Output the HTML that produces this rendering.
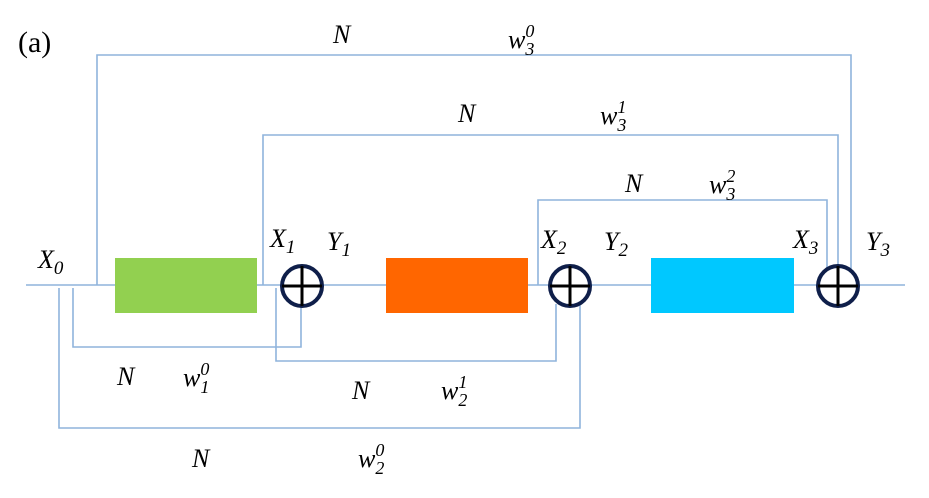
<!DOCTYPE html>
<html><head><style>
body{margin:0;background:#fff}
svg{display:block}
text{font-family:"Liberation Serif",serif;font-style:italic;fill:#000}
</style></head><body>
<svg width="929" height="498" viewBox="0 0 929 498" xmlns="http://www.w3.org/2000/svg">
<g fill="none" stroke="#8fb4dc" stroke-width="1.6">
<line x1="26" y1="285" x2="905" y2="285"/>
<polyline points="97,285 97,55 851,55 851,270"/>
<polyline points="263,285 263,135 838,135 838,265"/>
<polyline points="538,285 538,200 827,200 827,280"/>
<polyline points="73,288 73,347 301,347 301,305"/>
<polyline points="59,288 59,428 580,428 580,302"/>
<polyline points="276,288 276,361 556,361 556,304"/>
</g>
<rect x="115" y="258" width="142" height="55" fill="#92d050"/>
<rect x="386" y="258" width="142" height="55" fill="#ff6600"/>
<rect x="651" y="258" width="143" height="55" fill="#00c8ff"/>
<g fill="#fff" stroke="#0f1f4a" stroke-width="4">
<circle cx="302" cy="286" r="20"/>
<circle cx="570" cy="286" r="20"/>
<circle cx="838" cy="286" r="20"/>
</g>
<g stroke="#000" stroke-width="3">
<line x1="282" y1="286" x2="322" y2="286"/><line x1="302" y1="266" x2="302" y2="306"/>
<line x1="550" y1="286" x2="590" y2="286"/><line x1="570" y1="266" x2="570" y2="306"/>
<line x1="818" y1="286" x2="858" y2="286"/><line x1="838" y1="266" x2="838" y2="306"/>
</g>
<text x="18" y="52" font-size="30" style="font-style:normal">(a)</text>
<g font-size="26">
<text x="38" y="268">X<tspan font-size="19" dy="6">0</tspan></text>
<text x="270" y="247">X<tspan font-size="19" dy="6">1</tspan></text>
<text x="327" y="250">Y<tspan font-size="19" dy="6">1</tspan></text>
<text x="541" y="248">X<tspan font-size="19" dy="6">2</tspan></text>
<text x="604" y="250">Y<tspan font-size="19" dy="6">2</tspan></text>
<text x="793" y="248">X<tspan font-size="19" dy="6">3</tspan></text>
<text x="866" y="250">Y<tspan font-size="19" dy="6">3</tspan></text>
<text x="333" y="43">N</text>
<text x="458" y="122">N</text>
<text x="625" y="192">N</text>
<text x="117" y="385">N</text>
<text x="352" y="399">N</text>
<text x="192" y="467">N</text>
</g>
<g font-size="26">
<text x="508" y="48">w<tspan font-size="18" dx="0" dy="7">3</tspan><tspan font-size="18" dx="-9" dy="-18">0</tspan></text>
<text x="600" y="124">w<tspan font-size="18" dy="7">3</tspan><tspan font-size="18" dx="-9" dy="-18">1</tspan></text>
<text x="709" y="193">w<tspan font-size="18" dy="7">3</tspan><tspan font-size="18" dx="-9" dy="-18">2</tspan></text>
<text x="183" y="386">w<tspan font-size="18" dy="7">1</tspan><tspan font-size="18" dx="-9" dy="-18">0</tspan></text>
<text x="441" y="399">w<tspan font-size="18" dy="7">2</tspan><tspan font-size="18" dx="-9" dy="-18">1</tspan></text>
<text x="358" y="467">w<tspan font-size="18" dy="7">2</tspan><tspan font-size="18" dx="-9" dy="-18">0</tspan></text>
</g>
</svg>
</body></html>
